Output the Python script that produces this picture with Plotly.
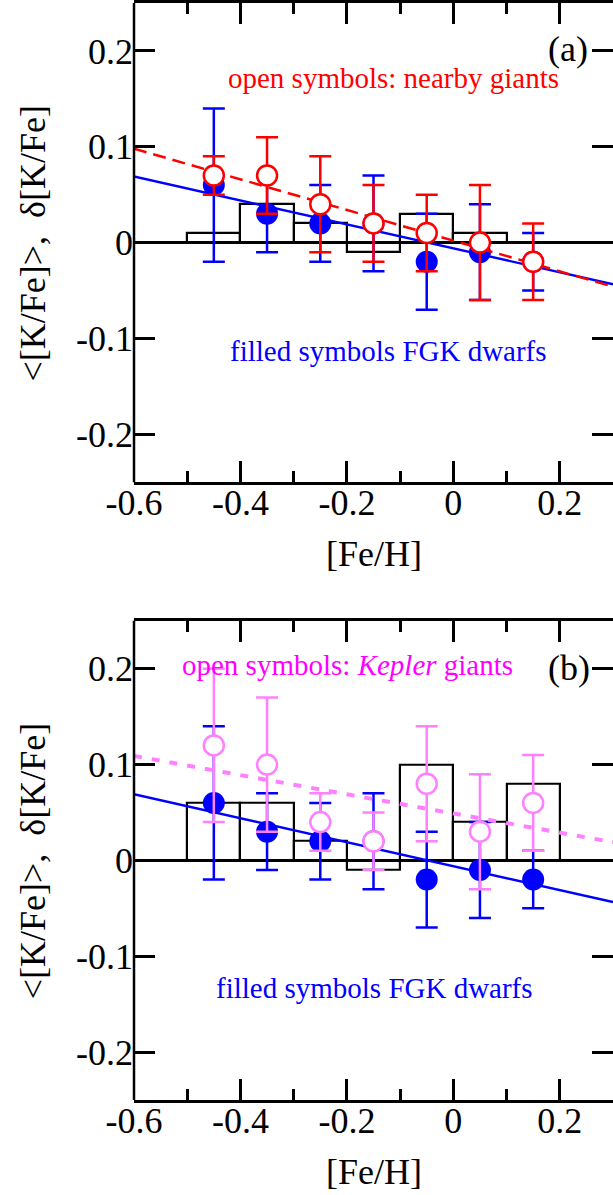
import plotly.graph_objects as go

# ---------------- data ----------------
feh_bins = [-0.45, -0.35, -0.25, -0.15, -0.05, 0.05, 0.15]
bin_width = 0.1

dwarf_mean = [0.06, 0.03, 0.02, 0.02, -0.02, -0.01, -0.02]
dwarf_err = [0.08, 0.04, 0.04, 0.05, 0.05, 0.05, 0.03]

nearby_mean = [0.07, 0.07, 0.04, 0.02, 0.01, 0.00, -0.02]
nearby_err = [0.02, 0.04, 0.05, 0.04, 0.04, 0.06, 0.04]

kepler_mean = [0.12, 0.10, 0.04, 0.02, 0.08, 0.03, 0.06]
kepler_err = [0.08, 0.07, 0.03, 0.03, 0.06, 0.06, 0.05]

delta_nearby = [0.01, 0.04, 0.02, -0.01, 0.03, 0.01, 0.00]
delta_kepler = [0.06, 0.06, 0.02, -0.01, 0.10, 0.04, 0.08]

# linear fits: y = intercept + slope * [Fe/H]
fit_dwarf = (-0.006, -0.125)
fit_nearby = (0.002, -0.16)
fit_kepler = (0.049, -0.10)

x_range = [-0.6, 0.3]
y_range = [-0.25, 0.25]
x_tickvals = [-0.6, -0.4, -0.2, 0, 0.2]
x_ticktext = ["-0.6", "-0.4", "-0.2", "0", "0.2"]
x_minor_tickvals = [-0.5, -0.3, -0.1, 0.1]
y_tickvals = [-0.2, -0.1, 0, 0.1, 0.2]
y_ticktext = ["-0.2", "-0.1", "0", "0.1", "0.2"]

BLUE = "#0000ff"
RED = "#ff0000"
PINK = "#ff80ff"
MAGENTA = "#ff00ff"
FONT = "Liberation Serif"

fig = go.Figure()


def fit_line(fit):
    a, b = fit
    return x_range, [a + b * x_range[0], a + b * x_range[1]]


def add_panel(xa, ya, delta, giant_mean, giant_err, giant_color, fit_g, dash, lw_g):
    fig.add_trace(go.Bar(
        x=feh_bins, y=delta, width=bin_width, base=0,
        marker=dict(color="rgba(0,0,0,0)", line=dict(color="black", width=2.2)),
        xaxis=xa, yaxis=ya, showlegend=False, hoverinfo="skip"))
    # dwarfs
    fig.add_trace(go.Scatter(
        x=feh_bins, y=dwarf_mean, mode="markers",
        marker=dict(size=22, color=BLUE, line=dict(width=0)),
        error_y=dict(type="data", array=dwarf_err, color=BLUE, thickness=2.5, width=11),
        xaxis=xa, yaxis=ya, showlegend=False))
    lx, ly = fit_line(fit_dwarf)
    fig.add_trace(go.Scatter(x=lx, y=ly, mode="lines", line=dict(color=BLUE, width=2.4),
                             xaxis=xa, yaxis=ya, showlegend=False))
    # giants fit
    gx, gy = fit_line(fit_g)
    fig.add_trace(go.Scatter(x=gx, y=gy, mode="lines",
                             line=dict(color=giant_color, width=lw_g, dash=dash),
                             xaxis=xa, yaxis=ya, showlegend=False))
    # giants
    fig.add_trace(go.Scatter(
        x=feh_bins, y=giant_mean, mode="markers",
        marker=dict(size=20, color="white", line=dict(width=2.5, color=giant_color)),
        error_y=dict(type="data", array=giant_err, color=giant_color, thickness=2.5, width=11),
        xaxis=xa, yaxis=ya, showlegend=False))


add_panel("x", "y", delta_nearby, nearby_mean, nearby_err, RED, fit_nearby, "13px,7px", 2.5)
add_panel("x2", "y2", delta_kepler, kepler_mean, kepler_err, PINK, fit_kepler, "8px,10px", 4)

xaxis_common = dict(
    range=x_range, tickvals=x_tickvals, ticktext=x_ticktext,
    ticks="inside", ticklen=21, tickwidth=2.5, tickcolor="black",
    minor=dict(tickvals=x_minor_tickvals, ticks="inside", ticklen=11,
               tickwidth=2.5, tickcolor="black"),
    showline=True, linecolor="black", linewidth=2.5, mirror="ticks",
    showgrid=False, zeroline=False, ticklabelstandoff=-13,
    tickfont=dict(family=FONT, size=36, color="black"),
)
yaxis_common = dict(
    range=y_range, tickvals=y_tickvals, ticktext=y_ticktext,
    ticks="inside", ticklen=21, tickwidth=2.5, tickcolor="black",
    showline=False, mirror="ticks",
    showgrid=False, zeroline=True, zerolinecolor="black", zerolinewidth=2.5,
    tickfont=dict(family=FONT, size=36, color="black"),
)

top_dom = [0.5632, 1.0]
bot_dom = [0.0, 0.4368]

fig.update_layout(
    width=613, height=1195,
    margin=dict(l=134, r=0, t=1, b=95),
    paper_bgcolor="white", plot_bgcolor="white",
    bargap=0,
    xaxis=dict(xaxis_common, anchor="y", domain=[0, 1]),
    yaxis=dict(yaxis_common, anchor="x", domain=top_dom),
    xaxis2=dict(xaxis_common, anchor="y2", domain=[0, 1]),
    yaxis2=dict(yaxis_common, anchor="x2", domain=bot_dom),
)

# left frame lines (axis spines)
for xr, yr in (("x", "y"), ("x2", "y2")):
    fig.add_shape(type="line", xref=xr + " domain", yref=yr + " domain",
                  x0=0, x1=0, y0=0, y1=1, line=dict(color="black", width=2.5), layer="above")

ann = []
ytitle = "&lt;[K/Fe]&gt;,\u00a0\u00a0δ[K/Fe]"
for yr, xr in (("y", "x"), ("y2", "x2")):
    ann.append(dict(text=ytitle, xref="paper", yref=yr + " domain", x=-0.211, y=0.5,
                    xanchor="center", yanchor="middle", textangle=-90, showarrow=False,
                    font=dict(family=FONT, size=36, color="black")))
    ann.append(dict(text="[Fe/H]", xref=xr + " domain", yref=yr + " domain", x=0.5, y=0,
                    xanchor="center", yanchor="middle", yshift=-72, showarrow=False,
                    font=dict(family=FONT, size=36, color="black")))

ann += [
    dict(text="(a)", xref="x", yref="y", x=0.2146, y=0.202, xanchor="center", yanchor="middle",
         showarrow=False, font=dict(family=FONT, size=36, color="black")),
    dict(text="open symbols: nearby giants", xref="x", yref="y", x=-0.113, y=0.172,
         xanchor="center", yanchor="middle", showarrow=False,
         font=dict(family=FONT, size=29, color=RED)),
    dict(text="filled symbols FGK dwarfs", xref="x", yref="y", x=-0.122, y=-0.113,
         xanchor="center", yanchor="middle", showarrow=False,
         font=dict(family=FONT, size=29, color=BLUE)),
    dict(text="(b)", xref="x2", yref="y2", x=0.2165, y=0.201, xanchor="center", yanchor="middle",
         showarrow=False, font=dict(family=FONT, size=36, color="black")),
    dict(text="open symbols: <i>Kepler</i> giants", xref="x2", yref="y2", x=-0.199, y=0.204,
         xanchor="center", yanchor="middle", showarrow=False,
         font=dict(family=FONT, size=29, color=MAGENTA)),
    dict(text="filled symbols FGK dwarfs", xref="x2", yref="y2", x=-0.149, y=-0.133,
         xanchor="center", yanchor="middle", showarrow=False,
         font=dict(family=FONT, size=29, color=BLUE)),
]
fig.update_layout(annotations=ann)

fig.write_html("out.html")
